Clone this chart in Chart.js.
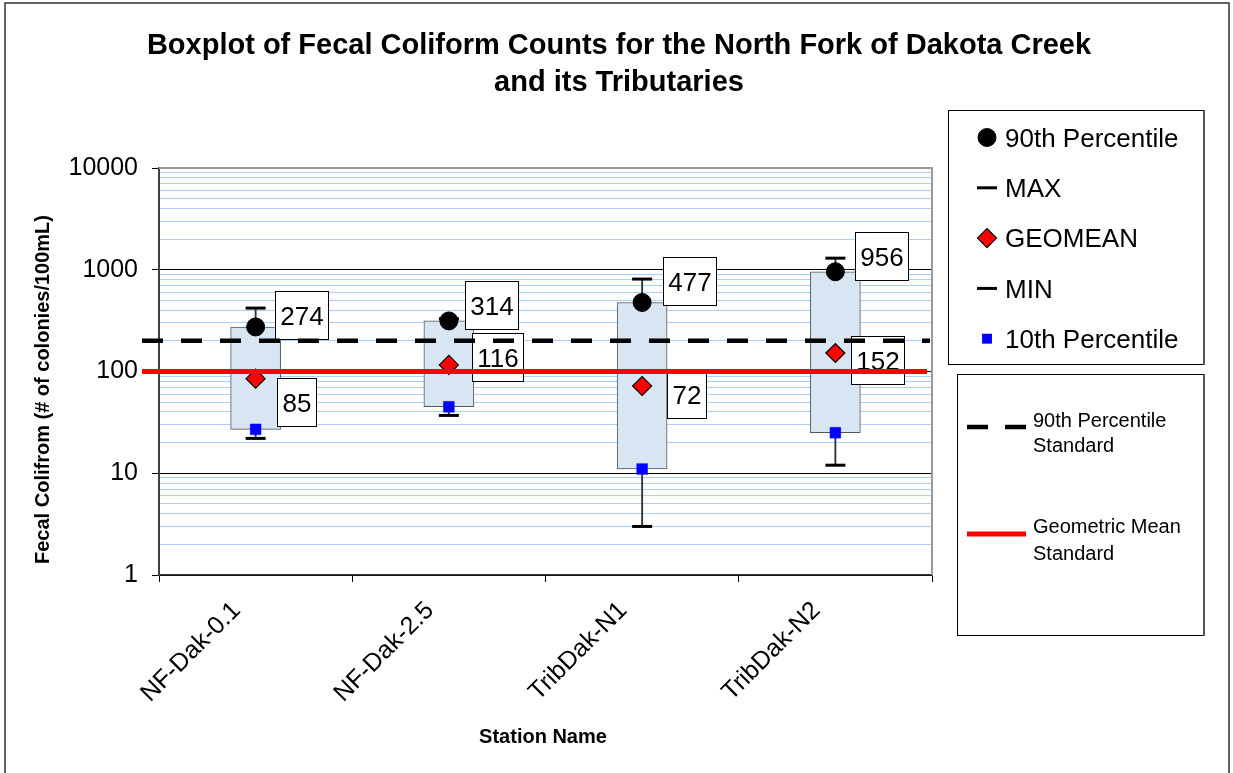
<!DOCTYPE html>
<html><head><meta charset="utf-8">
<script src="https://cdn.jsdelivr.net/npm/chart.js@4.4.1/dist/chart.umd.min.js"></script>
<style>html,body{margin:0;padding:0;background:#fff;overflow:hidden}#wrap{position:relative;width:1233px;height:773px}</style>
</head><body><div id="wrap"><canvas id="c" width="1233" height="773"></canvas></div>
<script>
// ---- data ----
const stations = ['NF-Dak-0.1', 'NF-Dak-2.5', 'TribDak-N1', 'TribDak-N2'];
const maxValues = [420, 330, 810, 1300];
const p90Values = [274, 314, 477, 956];
const geomeanValues = [85, 116, 72, 152];
const p10Values = [27, 45, 11, 25];
const minValues = [22, 37, 3, 12];
const standard90 = 200;
const standardGeo = 100;
const yTickValues = [1, 10, 100, 1000, 10000];
const yTickLabels = ['1', '10', '100', '1000', '10000'];
const titleLines = ['Boxplot of Fecal Coliform Counts for the North Fork of Dakota Creek', 'and its Tributaries'];
const yTitle = 'Fecal Colifrom (# of colonies/100mL)';
const xTitle = 'Station Name';
const standardLegend = [['90th Percentile', 'Standard'], ['Geometric Mean', 'Standard']];

// label placement nudges (pixels, relative to the point) – layout only
const p90LabelNudge = [[19, -12], [16, -16], [21, -21], [20, -16]];
const geoLabelNudge = [[21, 23], [23, -8], [25, 8], [16, 7]];

const FONT = "'Liberation Sans', Arial, sans-serif";

const boxData = stations.map((s, i) => [p10Values[i], p90Values[i]]);
const whiskerData = stations.map((s, i) => [minValues[i], maxValues[i]]);

const pointSets = [
  {label: '90th Percentile', data: p90Values, style: 'circle', r: 9, bg: '#000', bc: '#000', bw: 1},
  {label: 'MAX', data: maxValues, style: 'line', r: 10, bg: '#000', bc: '#000', bw: 3},
  {label: 'GEOMEAN', data: geomeanValues, style: 'rectRot', r: 9.5, bg: '#ff0000', bc: '#000', bw: 1.2},
  {label: 'MIN', data: minValues, style: 'line', r: 10, bg: '#000', bc: '#000', bw: 3},
  {label: '10th Percentile', data: p10Values, style: 'rect', r: 7.6, bg: '#0000ff', bc: '#0000ff', bw: 0.5}
];

function drawMarker(ctx, style, x, y, r, bg, bc, bw) {
  ctx.save();
  ctx.fillStyle = bg; ctx.strokeStyle = bc; ctx.lineWidth = bw;
  ctx.beginPath();
  if (style === 'circle') { ctx.arc(x, y, r, 0, Math.PI * 2); ctx.fill(); ctx.stroke(); }
  else if (style === 'line') { ctx.moveTo(x - r, y); ctx.lineTo(x + r, y); ctx.stroke(); }
  else if (style === 'rectRot') { ctx.moveTo(x - r, y); ctx.lineTo(x, y - r); ctx.lineTo(x + r, y); ctx.lineTo(x, y + r); ctx.closePath(); ctx.fill(); ctx.stroke(); }
  else if (style === 'rect') { const s = r * Math.SQRT1_2; ctx.rect(x - s, y - s, 2 * s, 2 * s); ctx.fill(); }
  ctx.restore();
}

const decor = {
  id: 'decor',
  beforeDraw(chart) {
    const ctx = chart.ctx;
    ctx.save(); ctx.fillStyle = '#fff'; ctx.fillRect(0, 0, chart.width, chart.height); ctx.restore();
  },
  afterDatasetsDraw(chart) {
    const ctx = chart.ctx, xs = chart.scales.x, ys = chart.scales.y, ca = chart.chartArea;
    // plot area border (top / right)
    ctx.save();
    ctx.strokeStyle = '#9a9a9a'; ctx.lineWidth = 2;
    ctx.beginPath(); ctx.moveTo(ca.left, ca.top); ctx.lineTo(ca.right, ca.top); ctx.lineTo(ca.right, ca.bottom); ctx.stroke();
    ctx.restore();
    // data label boxes
    ctx.save();
    ctx.font = '26px ' + FONT;
    ctx.textAlign = 'center'; ctx.textBaseline = 'alphabetic';
    const drawLabel = (val, i, nudge) => {
      const cx = xs.getPixelForValue(i), py = ys.getPixelForValue(val);
      const txt = String(val);
      const w = Math.round(ctx.measureText(txt).width + 10), h = 48;
      const left = Math.round(cx + nudge[0]) + 0.5, cy = py + nudge[1];
      const top = Math.round(cy - h / 2) + 0.5;
      ctx.fillStyle = '#fff'; ctx.fillRect(left, top, w, h);
      ctx.strokeStyle = '#000'; ctx.lineWidth = 1; ctx.strokeRect(left, top, w, h);
      ctx.fillStyle = '#000'; ctx.fillText(txt, left + w / 2, top + h / 2 + 9.3);
    };
    stations.forEach((s, i) => { drawLabel(p90Values[i], i, p90LabelNudge[i]); drawLabel(geomeanValues[i], i, geoLabelNudge[i]); });
    ctx.restore();
    // standard lines
    ctx.save();
    const x0 = ca.left - 17, x1 = ca.right - 2;
    let yy = ys.getPixelForValue(standard90);
    ctx.strokeStyle = '#000'; ctx.lineWidth = 4.5; ctx.setLineDash([21, 18]);
    ctx.beginPath(); ctx.moveTo(x0, yy); ctx.lineTo(x1, yy); ctx.stroke();
    yy = ys.getPixelForValue(standardGeo);
    ctx.setLineDash([]); ctx.strokeStyle = '#ff0000'; ctx.lineWidth = 5;
    ctx.beginPath(); ctx.moveTo(x0, yy); ctx.lineTo(x1 - 3, yy); ctx.stroke();
    ctx.restore();
  },
  afterDraw(chart) {
    const ctx = chart.ctx, ca = chart.chartArea;
    ctx.save();
    // outer frame
    ctx.strokeStyle = '#333'; ctx.lineWidth = 1.5;
    ctx.strokeRect(5, 3, 1224, 800);
    // title
    ctx.fillStyle = '#000'; ctx.textAlign = 'center'; ctx.textBaseline = 'alphabetic';
    ctx.font = 'bold 29px ' + FONT;
    ctx.fillText(titleLines[0], 619, 54);
    ctx.fillText(titleLines[1], 619, 91);
    // axis titles
    ctx.font = 'bold 20px ' + FONT;
    ctx.fillText(xTitle, 543, 742.5);
    ctx.save(); ctx.translate(49, 389.5); ctx.rotate(-Math.PI / 2); ctx.fillText(yTitle, 0, 0); ctx.restore();
    // legend box 1
    ctx.strokeStyle = '#000'; ctx.lineWidth = 1;
    ctx.strokeRect(948.5, 110.5, 255, 254);
    ctx.strokeStyle = '#555'; ctx.lineWidth = 2;
    ctx.beginPath(); ctx.moveTo(1204, 110); ctx.lineTo(1204, 365); ctx.stroke();
    ctx.font = '26px ' + FONT; ctx.textAlign = 'left';
    pointSets.forEach((p, k) => {
      const cy = 137.5 + k * 50.3;
      drawMarker(ctx, p.style, 987, cy, p.style === 'rect' ? 7 : p.r, p.bg, p.bc, p.bw);
      ctx.fillStyle = '#000';
      ctx.fillText(p.label, 1005, cy + 9.3);
    });
    // legend box 2
    ctx.strokeStyle = '#000'; ctx.lineWidth = 1;
    ctx.strokeRect(957.5, 374.5, 246, 261);
    ctx.strokeStyle = '#555'; ctx.lineWidth = 2;
    ctx.beginPath(); ctx.moveTo(1204, 374); ctx.lineTo(1204, 636); ctx.stroke();
    ctx.strokeStyle = '#000'; ctx.lineWidth = 4.5; ctx.setLineDash([21, 17]);
    ctx.beginPath(); ctx.moveTo(967, 427); ctx.lineTo(1026, 427); ctx.stroke();
    ctx.setLineDash([]); ctx.strokeStyle = '#ff0000'; ctx.lineWidth = 5;
    ctx.beginPath(); ctx.moveTo(967, 534); ctx.lineTo(1026, 534); ctx.stroke();
    ctx.font = '20px ' + FONT; ctx.fillStyle = '#000';
    ctx.fillText(standardLegend[0][0], 1033, 426.5);
    ctx.fillText(standardLegend[0][1], 1033, 452);
    ctx.fillText(standardLegend[1][0], 1033, 533);
    ctx.fillText(standardLegend[1][1], 1033, 560);
    ctx.restore();
  }
};

const datasets = [
  {type: 'bar', label: 'whisker', data: whiskerData, backgroundColor: '#333', borderWidth: 0, barThickness: 1.2, grouped: false, order: 20},
  {type: 'bar', label: 'box', data: boxData, backgroundColor: '#d8e5f2', borderColor: '#555', borderWidth: 1, borderSkipped: false, barThickness: 50, grouped: false, order: 15}
].concat(pointSets.map((p, k) => ({
  type: 'line', label: p.label, data: p.data, showLine: false,
  pointStyle: p.style, pointRadius: p.r, pointHoverRadius: p.r,
  pointBackgroundColor: p.bg, pointBorderColor: p.bc, pointBorderWidth: p.bw,
  borderColor: p.bc, backgroundColor: p.bg, order: 10 - k
})));

new Chart(document.getElementById('c'), {
  data: {labels: stations, datasets},
  options: {
    responsive: false, animation: false, devicePixelRatio: 1,
    layout: {padding: {left: 20, top: 168, right: 301, bottom: 0}},
    plugins: {legend: {display: false}, title: {display: false}, tooltip: {enabled: false}},
    scales: {
      x: {
        type: 'category', offset: true,
        grid: {offset: true, drawOnChartArea: false, drawTicks: true, tickLength: 7, tickColor: '#000', lineWidth: 1},
        border: {display: true, color: '#333', width: 1.5},
        ticks: {font: {family: FONT, size: 25}, color: '#000', maxRotation: 45, minRotation: 45, autoSkip: false, padding: 14, labelOffset: -19},
        afterFit: s => { s.height = 198; }
      },
      y: {
        type: 'logarithmic', min: 1, max: 10000,
        afterBuildTicks: s => {
          const t = [];
          yTickValues.forEach((d, k) => {
            t.push({value: d, major: true});
            if (k < yTickValues.length - 1) for (let m = 2; m <= 9; m++) t.push({value: d * m, major: false});
          });
          s.ticks = t;
        },
        grid: {
          color: c => (c.tick && c.tick.major) ? '#000' : '#a9d1f7',
          tickColor: c => (c.tick && c.tick.major) ? '#000' : 'rgba(0,0,0,0)',
          lineWidth: 1, tickLength: 7, drawTicks: true
        },
        border: {display: true, color: '#404040', width: 2},
        ticks: {
          autoSkip: false, padding: 14, color: '#000', font: {family: FONT, size: 25},
          callback: v => { const i = yTickValues.indexOf(v); return i >= 0 ? yTickLabels[i] : ''; }
        },
        afterFit: s => { s.width = 139; }
      }
    }
  },
  plugins: [decor]
});
</script>
</body></html>
